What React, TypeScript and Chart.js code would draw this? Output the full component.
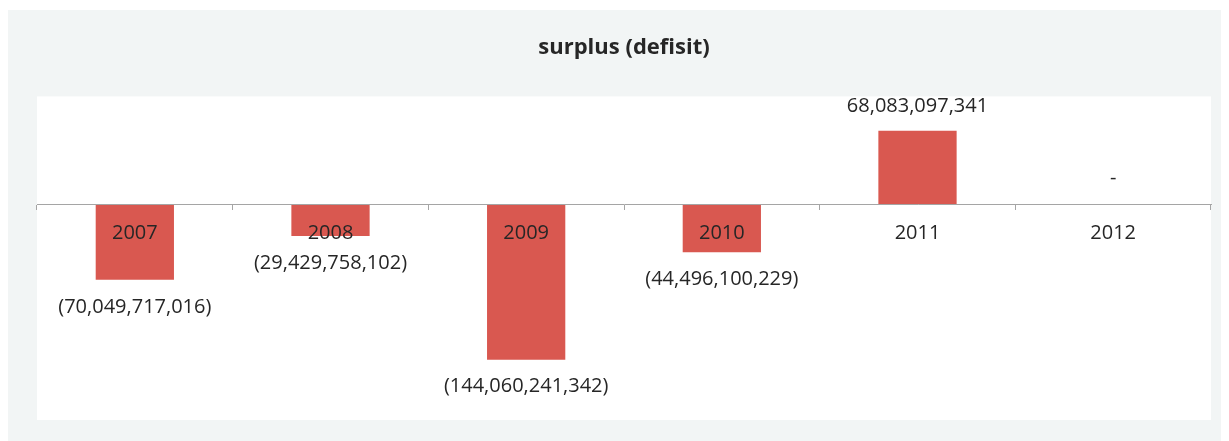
import React, { useEffect, useRef } from "react";
import { Chart, registerables } from "chart.js";

Chart.register(...registerables);

const categories = ["2007", "2008", "2009", "2010", "2011", "2012"];
const surplusValues = [
  -70049717016, -29429758102, -144060241342, -44496100229, 68083097341, 0,
];
const chartTitle = "surplus (defisit)";
const yMin = -200000000000;
const yMax = 100000000000;

const FONT = "'Open Sans', 'DejaVu Sans', sans-serif";
const TEXT_COLOR = "#262626";
const BAR_COLOR = "#d95850";
const AXIS_COLOR = "#a5a5a5";

function formatValue(v: number): string {
  if (v === 0) return "-";
  const s = Math.abs(v).toLocaleString("en-US");
  return v < 0 ? `(${s})` : s;
}

const plotBackground = {
  id: "plotBackground",
  beforeDraw(chart: any) {
    const { ctx, chartArea } = chart;
    ctx.save();
    ctx.fillStyle = "#ffffff";
    ctx.fillRect(
      chartArea.left,
      chartArea.top,
      chartArea.right - chartArea.left,
      chartArea.bottom - chartArea.top
    );
    ctx.restore();
  },
};

const valueLabels = {
  id: "valueLabels",
  afterDatasetsDraw(chart: any) {
    const { ctx } = chart;
    const meta = chart.getDatasetMeta(0);
    const data = chart.data.datasets[0].data as number[];
    const zeroY = chart.scales.y.getPixelForValue(0);
    ctx.save();
    ctx.font = `20px ${FONT}`;
    ctx.fillStyle = TEXT_COLOR;
    ctx.textAlign = "center";
    ctx.textBaseline = "middle";
    meta.data.forEach((bar: any, i: number) => {
      const v = data[i];
      const text = formatValue(v);
      let y: number;
      if (v > 0) y = bar.y - 25;
      else if (v < 0) y = bar.y + 27;
      else y = zeroY - 26;
      ctx.fillText(text, bar.x, y);
    });
    ctx.restore();
  },
};

export default function App() {
  const canvasRef = useRef<HTMLCanvasElement | null>(null);

  useEffect(() => {
    if (!canvasRef.current) return;
    const chart = new Chart(canvasRef.current, {
      type: "bar",
      data: {
        labels: categories,
        datasets: [
          {
            data: surplusValues,
            backgroundColor: BAR_COLOR,
            borderWidth: 0,
            barPercentage: 0.4,
            categoryPercentage: 1,
          },
        ],
      },
      options: {
        animation: false,
        responsive: false,
        maintainAspectRatio: false,
        layout: { padding: { left: 29, right: 18, top: 0, bottom: 21 } },
        plugins: {
          legend: { display: false },
          tooltip: { enabled: false },
          title: {
            display: true,
            text: chartTitle,
            color: TEXT_COLOR,
            font: { family: FONT, size: 22, weight: "bold", lineHeight: 1.2 },
            padding: { top: 25, bottom: 35 },
          },
        },
        scales: {
          x: {
            type: "category",
            position: { y: 0 } as any,
            offset: true,
            afterFit: (scale: any) => {
              scale.height = 0;
            },
            grid: {
              display: true,
              drawOnChartArea: false,
              drawTicks: true,
              tickLength: 5,
              color: AXIS_COLOR,
              offset: true,
              z: 1,
            },
            border: { display: true, color: AXIS_COLOR, width: 1, z: 1 },
            ticks: {
              color: TEXT_COLOR,
              font: { family: FONT, size: 20 },
              padding: 12,
              maxRotation: 0,
              autoSkip: false,
              z: 1,
            },
          },
          y: {
            display: false,
            min: yMin,
            max: yMax,
            grid: { display: false },
          },
        },
      },
      plugins: [plotBackground, valueLabels],
    });
    return () => chart.destroy();
  }, []);

  return (
    <div
      style={{
        marginTop: 2,
        width: 1221,
        height: 431,
        background: "#f2f5f5",
      }}
    >
      <canvas
        ref={canvasRef}
        width={1221}
        height={431}
        style={{ display: "block", width: 1221, height: 431 }}
      />
    </div>
  );
}
